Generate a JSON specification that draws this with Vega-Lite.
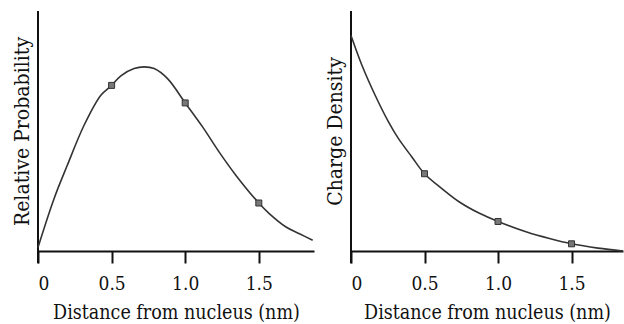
{
  "$schema": "https://vega.github.io/schema/vega-lite/v6.json",
  "padding": {"left": 11, "top": 10, "right": 0, "bottom": 0},
  "spacing": 8,
  "config": {
    "view": {"stroke": null},
    "font": "DejaVu Serif",
    "axis": {"grid": false, "titleFontWeight": "normal", "titleColor": "#111", "labelColor": "#111"}
  },
  "datasets": {
    "prob": [
      {"x": 0, "y": 1.5}, {"x": 0.109, "y": 21.8}, {"x": 0.199, "y": 35.7}, {"x": 0.313, "y": 52.4},
      {"x": 0.427, "y": 64.9}, {"x": 0.5, "y": 69.0}, {"x": 0.563, "y": 73.0}, {"x": 0.653, "y": 76.0},
      {"x": 0.721, "y": 76.7}, {"x": 0.789, "y": 76.0}, {"x": 0.88, "y": 71.8}, {"x": 1.0, "y": 61.7},
      {"x": 1.118, "y": 51.7}, {"x": 1.231, "y": 41.2}, {"x": 1.345, "y": 31.5}, {"x": 1.5, "y": 20.0},
      {"x": 1.571, "y": 15.6}, {"x": 1.685, "y": 10.0}, {"x": 1.776, "y": 7.2}, {"x": 1.866, "y": 4.5}
    ],
    "probPts": [{"x": 0.5, "y": 69.0}, {"x": 1.0, "y": 61.7}, {"x": 1.5, "y": 20.0}],
    "charge": [
      {"x": 0, "y": 89.8}, {"x": 0.075, "y": 77.3}, {"x": 0.165, "y": 64.8}, {"x": 0.255, "y": 53.8},
      {"x": 0.323, "y": 46.8}, {"x": 0.414, "y": 39.2}, {"x": 0.5, "y": 32.2}, {"x": 0.618, "y": 26.0},
      {"x": 0.74, "y": 20.3}, {"x": 0.87, "y": 15.8}, {"x": 1.0, "y": 12.3}, {"x": 1.195, "y": 7.9},
      {"x": 1.35, "y": 5.2}, {"x": 1.5, "y": 3.0}, {"x": 1.68, "y": 1.2}, {"x": 1.85, "y": 0.0}
    ],
    "chargePts": [{"x": 0.5, "y": 32.2}, {"x": 1.0, "y": 12.3}, {"x": 1.5, "y": 3.0}],
    "yaxis": [{"x": 0, "y": -5.1, "y2": 100}]
  },
  "hconcat": [
    {
      "width": 276,
      "height": 240,
      "layer": [
        {
          "data": {"name": "yaxis"},
          "mark": {"type": "rule", "color": "#111", "strokeWidth": 2},
          "encoding": {
            "x": {"field": "x", "type": "quantitative", "scale": {"domain": [0, 1.875], "nice": false},
              "axis": {"values": [0, 0.5, 1, 1.5], "labelExpr": "datum.value == 0 ? '0' : format(datum.value, '.1f')",
                "domainColor": "#111", "domainWidth": 2, "tickColor": "#111", "tickWidth": 2, "tickSize": 12,
                "labelFont": "DejaVu Serif Condensed", "labelFontSize": 19, "labelPadding": 11,
                "title": "Distance from nucleus (nm)", "titleFont": "DejaVu Serif Condensed", "titleFontSize": 19.5, "titlePadding": 10}},
            "y": {"field": "y", "type": "quantitative", "scale": {"domain": [0, 100], "nice": false},
              "axis": {"domain": false, "ticks": false, "labels": false, "title": "Relative Probability", "titleFont": "DejaVu Serif Condensed", "titleFontSize": 21, "titlePadding": 6}},
            "y2": {"field": "y2"}
          }
        },
        {
          "data": {"name": "prob"},
          "mark": {"type": "line", "interpolate": "catmull-rom", "color": "#333", "strokeWidth": 1.6},
          "encoding": {
            "x": {"field": "x", "type": "quantitative"},
            "y": {"field": "y", "type": "quantitative"}
          }
        },
        {
          "data": {"name": "probPts"},
          "mark": {"type": "square", "size": 36, "filled": true, "color": "#777", "stroke": "#333", "strokeWidth": 1, "opacity": 1},
          "encoding": {
            "x": {"field": "x", "type": "quantitative"},
            "y": {"field": "y", "type": "quantitative"}
          }
        }
      ]
    },
    {
      "width": 272,
      "height": 240,
      "layer": [
        {
          "data": {"name": "yaxis"},
          "mark": {"type": "rule", "color": "#111", "strokeWidth": 2},
          "encoding": {
            "x": {"field": "x", "type": "quantitative", "scale": {"domain": [0, 1.85], "nice": false},
              "axis": {"values": [0, 0.5, 1, 1.5], "labelExpr": "datum.value == 0 ? '0' : format(datum.value, '.1f')",
                "domainColor": "#111", "domainWidth": 2, "tickColor": "#111", "tickWidth": 2, "tickSize": 12,
                "labelFont": "DejaVu Serif Condensed", "labelFontSize": 19, "labelPadding": 11,
                "title": "Distance from nucleus (nm)", "titleFont": "DejaVu Serif Condensed", "titleFontSize": 19.5, "titlePadding": 10}},
            "y": {"field": "y", "type": "quantitative", "scale": {"domain": [0, 100], "nice": false},
              "axis": {"domain": false, "ticks": false, "labels": false, "title": "Charge Density", "titleFont": "DejaVu Serif Condensed", "titleFontSize": 21, "titlePadding": 6}},
            "y2": {"field": "y2"}
          }
        },
        {
          "data": {"name": "charge"},
          "mark": {"type": "line", "interpolate": "catmull-rom", "color": "#333", "strokeWidth": 1.6},
          "encoding": {
            "x": {"field": "x", "type": "quantitative"},
            "y": {"field": "y", "type": "quantitative"}
          }
        },
        {
          "data": {"name": "chargePts"},
          "mark": {"type": "square", "size": 36, "filled": true, "color": "#777", "stroke": "#333", "strokeWidth": 1, "opacity": 1},
          "encoding": {
            "x": {"field": "x", "type": "quantitative"},
            "y": {"field": "y", "type": "quantitative"}
          }
        }
      ]
    }
  ]
}
